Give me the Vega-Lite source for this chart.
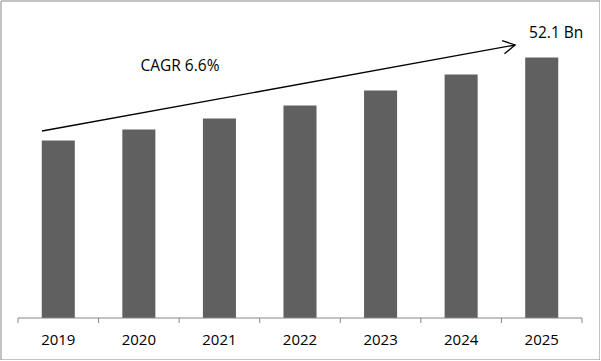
{
  "$schema": "https://vega.github.io/schema/vega-lite/v6.json",
  "width": 599,
  "height": 359,
  "autosize": "none",
  "padding": {"left": 0.5, "top": 0.5, "right": 0, "bottom": 0},
  "background": "white",
  "config": {"view": {"stroke": "#878787", "strokeWidth": 1}},
  "resolve": {"scale": {"x": "independent"}},
  "layer": [
    {
      "data": {"values": [
        {"year": "2019", "value": 35.5},
        {"year": "2020", "value": 37.7},
        {"year": "2021", "value": 39.9},
        {"year": "2022", "value": 42.5},
        {"year": "2023", "value": 45.5},
        {"year": "2024", "value": 48.7},
        {"year": "2025", "value": 52.1}
      ]},
      "mark": {"type": "bar", "color": "#606060"},
      "encoding": {
        "x": {"field": "year", "type": "nominal", "sort": null,
          "scale": {"range": [17.5, 581.5], "paddingInner": 0.59, "paddingOuter": 0.295},
          "axis": {"title": null, "domain": false, "ticks": false, "tickSize": 0, "labelAngle": 0, "offset": -41.5, "labelPadding": 14.5, "labelFont": "Open Sans", "labelFontSize": 15, "labelColor": "#000000", "grid": false}},
        "y": {"field": "value", "type": "quantitative",
          "scale": {"domain": [0, 60], "range": [317.5, 17.5], "nice": false, "zero": true},
          "axis": null}
      }
    },
    {
      "data": {"values": [{"px": 0, "px2": 7, "v": 0}]},
      "mark": {"type": "rule", "color": "#878787", "strokeWidth": 1},
      "encoding": {
        "x": {"field": "px", "type": "quantitative", "scale": {"domain": [0, 7], "range": [17.5, 581.5], "nice": false, "zero": false}, "axis": null},
        "x2": {"field": "px2"},
        "y": {"field": "v", "type": "quantitative"}
      }
    },
    {
      "data": {"values": [
        {"px": 0, "v": 0, "v2": -1}, {"px": 1, "v": 0, "v2": -1}, {"px": 2, "v": 0, "v2": -1}, {"px": 3, "v": 0, "v2": -1},
        {"px": 4, "v": 0, "v2": -1}, {"px": 5, "v": 0, "v2": -1}, {"px": 6, "v": 0, "v2": -1}, {"px": 7, "v": 0, "v2": -1}
      ]},
      "mark": {"type": "rule", "color": "#878787", "strokeWidth": 1},
      "encoding": {
        "x": {"field": "px", "type": "quantitative", "scale": {"domain": [0, 7], "range": [17.5, 581.5], "nice": false, "zero": false}, "axis": null},
        "y": {"field": "v", "type": "quantitative"},
        "y2": {"field": "v2"}
      }
    },
    {
      "data": {"values": [{"px": 0.298, "v": 37.4}, {"px": 6.17, "v": 54.6}]},
      "mark": {"type": "line", "color": "#000000", "strokeWidth": 1.3},
      "encoding": {
        "x": {"field": "px", "type": "quantitative", "scale": {"domain": [0, 7], "range": [17.5, 581.5], "nice": false, "zero": false}, "axis": null},
        "y": {"field": "v", "type": "quantitative"}
      }
    },
    {
      "data": {"values": [{"px": 6.17, "v": 54.6}]},
      "mark": {"type": "point", "shape": "M-1,-0.55L0,0L-1,0.55", "filled": false, "stroke": "#000000", "strokeWidth": 1.3, "size": 576, "angle": -10.3, "opacity": 1},
      "encoding": {
        "x": {"field": "px", "type": "quantitative", "scale": {"domain": [0, 7], "range": [17.5, 581.5], "nice": false, "zero": false}, "axis": null},
        "y": {"field": "v", "type": "quantitative"}
      }
    },
    {
      "data": {"values": [{"px": 2.01, "v": 50.4, "label": "CAGR 6.6%"}, {"px": 6.68, "v": 57.0, "label": "52.1 Bn"}]},
      "mark": {"type": "text", "font": "Open Sans", "fontSize": 15.5, "color": "#000000", "align": "center", "baseline": "middle"},
      "encoding": {
        "x": {"field": "px", "type": "quantitative", "scale": {"domain": [0, 7], "range": [17.5, 581.5], "nice": false, "zero": false}, "axis": null},
        "y": {"field": "v", "type": "quantitative"},
        "text": {"field": "label"}
      }
    }
  ]
}
